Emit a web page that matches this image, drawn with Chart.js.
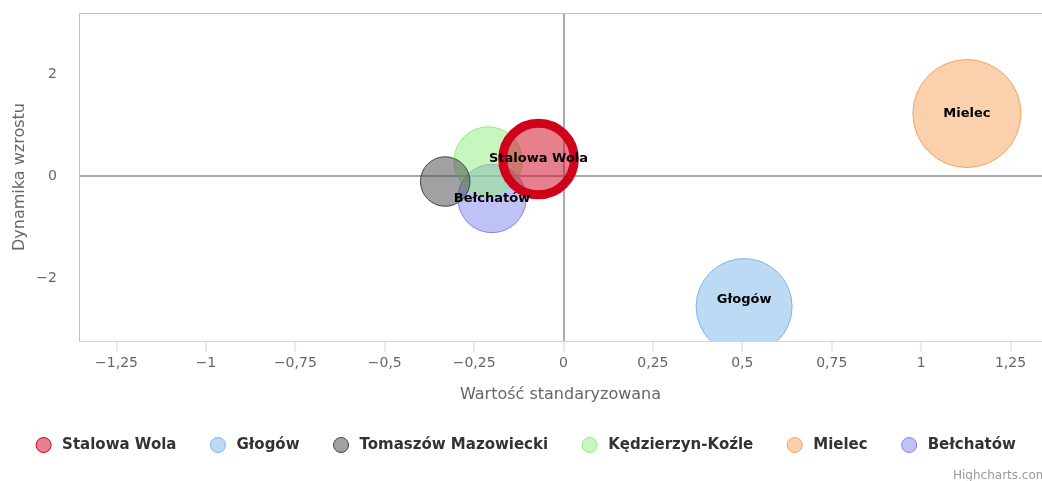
<!DOCTYPE html>
<html>
<head>
<meta charset="utf-8">
<script src="https://cdn.jsdelivr.net/npm/chart.js@4.4.1/dist/chart.umd.min.js"></script>
<style>
html, body { margin: 0; padding: 0; background: #fff; }
#wrap { width: 1042px; height: 481px; }
</style>
</head>
<body>
<div id="wrap"><canvas id="bubble" width="1042" height="481"></canvas></div>
<script>
// dane z wykresu
const cities = ['Stalowa Wola', 'Głogów', 'Tomaszów Mazowiecki', 'Kędzierzyn-Koźle', 'Mielec', 'Bełchatów'];
const xValues = [-0.07, 0.505, -0.331, -0.211, 1.128, -0.20];
const yValues = [0.333, -2.56, -0.108, 0.294, 1.225, -0.441];
const zValues = [44, 79, 21, 40, 100, 40];
const xTicks = [-1.25, -1, -0.75, -0.5, -0.25, 0, 0.25, 0.5, 0.75, 1, 1.25];
const yTicks = [-2, 0, 2];

const colors = ['#d0021b', '#7cb5ec', '#434348', '#90ed7d', '#f7a35c', '#8085e9'];
const highlighted = 'Stalowa Wola';

Chart.defaults.font.family = '"DejaVu Sans", Verdana, sans-serif';

function fade(hex, a) {
    const n = parseInt(hex.slice(1), 16);
    return 'rgba(' + (n >> 16) + ',' + ((n >> 8) & 255) + ',' + (n & 255) + ',' + a + ')';
}

// promien babelka ~ sqrt(z), najwiekszy 54px
const zMax = Math.max(...zValues);
function radius(z) {
    return 54 * Math.sqrt(z / zMax);
}

function fmt(v) {
    return String(v).replace('.', ',').replace('-', '\u2212');
}

const datasets = cities.map((name, i) => ({
    label: name,
    data: [{ x: xValues[i], y: yValues[i], r: radius(zValues[i]) }],
    backgroundColor: fade(colors[i], 0.5),
    borderColor: colors[i],
    borderWidth: name === highlighted ? 9 : 1,
    hoverRadius: 0
}));

// etykiety w babelkach, nachodzace na siebie sa ukrywane
const bubbleLabels = {
    id: 'bubbleLabels',
    afterDatasetsDraw(chart) {
        const ctx = chart.ctx;
        const area = chart.chartArea;
        ctx.save();
        ctx.font = 'bold 13px "DejaVu Sans"';
        ctx.textAlign = 'center';
        ctx.textBaseline = 'middle';
        const order = cities.map((c, i) => i).sort((a, b) => zValues[b] - zValues[a]);
        const placed = [];
        order.forEach(i => {
            const el = chart.getDatasetMeta(i).data[0];
            const r = el.options.radius;
            const top = Math.max(el.y - r, area.top);
            const bottom = Math.min(el.y + r, area.bottom);
            const x = el.x, y = (top + bottom) / 2;
            const w = ctx.measureText(cities[i]).width + 10, h = 26;
            const box = { l: x - w / 2, r: x + w / 2, t: y - h / 2, b: y + h / 2 };
            if (placed.some(p => box.l < p.r && box.r > p.l && box.t < p.b && box.b > p.t)) return;
            placed.push(box);
            ctx.fillStyle = '#000';
            ctx.fillText(cities[i], x, y);
        });
        ctx.restore();
    }
};

// legenda, gorna ramka i podpis
const extras = {
    id: 'extras',
    afterDraw(chart) {
        const ctx = chart.ctx;
        const area = chart.chartArea;
        ctx.save();
        ctx.strokeStyle = '#c0c0c0';
        ctx.lineWidth = 1;
        ctx.beginPath();
        ctx.moveTo(area.left, area.top + 0.5);
        ctx.lineTo(area.right, area.top + 0.5);
        ctx.stroke();

        ctx.font = 'bold 15px "DejaVu Sans"';
        ctx.textBaseline = 'middle';
        ctx.textAlign = 'left';
        const sym = 15, gap = 11, itemGap = 34;
        const widths = cities.map(c => ctx.measureText(c).width);
        const total = widths.reduce((s, w) => s + sym + gap + w, 0) + itemGap * (cities.length - 1);
        let x = 526 - total / 2;
        const y = 445;
        cities.forEach((name, i) => {
            ctx.beginPath();
            ctx.arc(x + sym / 2, y, sym / 2, 0, Math.PI * 2);
            ctx.fillStyle = fade(colors[i], 0.5);
            ctx.fill();
            ctx.strokeStyle = colors[i];
            ctx.lineWidth = 1;
            ctx.stroke();
            ctx.fillStyle = '#333';
            ctx.fillText(name, x + sym + gap, y);
            x += sym + gap + widths[i] + itemGap;
        });

        ctx.font = '12px "DejaVu Sans"';
        ctx.fillStyle = '#999';
        ctx.fillText('Highcharts.com', 953, 476);
        ctx.restore();
    }
};

const ctx = document.getElementById('bubble').getContext('2d');
new Chart(ctx, {
    type: 'bubble',
    data: { datasets: datasets },
    options: {
        responsive: false,
        animation: false,
        events: [],
        layout: { autoPadding: false, padding: { left: 0, top: 13, right: 0, bottom: 75 } },
        plugins: {
            legend: { display: false },
            tooltip: { enabled: false }
        },
        scales: {
            x: {
                type: 'linear',
                min: -1.355,
                max: 1.338,
                afterFit(scale) {
                    scale.height = 65;
                    scale.paddingLeft = 0;
                    scale.paddingRight = 0;
                },
                afterBuildTicks(scale) { scale.ticks = xTicks.map(v => ({ value: v })); },
                grid: {
                    color: c => (c.tick && c.tick.value === 0) ? '#aaaaaa' : 'rgba(0,0,0,0)',
                    lineWidth: 2,
                    tickColor: '#ccd6eb',
                    tickWidth: 1,
                    tickLength: 11
                },
                border: { color: '#ccd6eb', width: 1 },
                ticks: {
                    color: '#666',
                    font: { size: 14 },
                    padding: 3,
                    maxRotation: 0,
                    autoSkip: false,
                    callback: v => fmt(v)
                },
                title: {
                    display: true,
                    text: 'Wartość standaryzowana',
                    color: '#666',
                    font: { size: 16 },
                    padding: { top: 0, bottom: 2 }
                }
            },
            y: {
                type: 'linear',
                min: -3.235,
                max: 3.196,
                afterFit(scale) {
                    scale.width = 79;
                    scale.paddingTop = 0;
                    scale.paddingBottom = 0;
                },
                afterBuildTicks(scale) { scale.ticks = yTicks.map(v => ({ value: v })); },
                grid: {
                    color: c => (c.tick && c.tick.value === 0) ? '#aaaaaa' : 'rgba(0,0,0,0)',
                    lineWidth: 2,
                    drawTicks: false
                },
                border: { color: '#c0c0c0', width: 1 },
                ticks: {
                    color: '#666',
                    font: { size: 14 },
                    padding: 22,
                    callback: v => fmt(v)
                },
                title: {
                    display: true,
                    text: 'Dynamika wzrostu',
                    color: '#666',
                    font: { size: 16 },
                    padding: { top: 10, bottom: 0 }
                }
            }
        }
    },
    plugins: [bubbleLabels, extras]
});
</script>
</body>
</html>
